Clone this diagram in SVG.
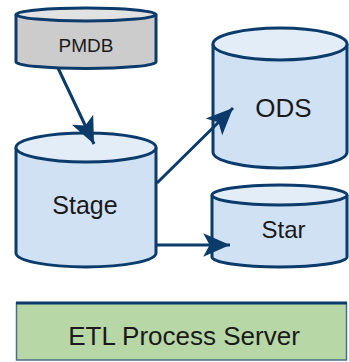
<svg xmlns="http://www.w3.org/2000/svg" width="349" height="362" viewBox="0 0 349 362">
<defs>
<style>
.cyl{stroke:#0b3b6b;stroke-width:3}
.body{fill:#cfe1f3}
.top{fill:#e3edf8}
.gbody{fill:#cccccc}
.gtop{fill:#e2e2e2}
.lbl{font-family:"Liberation Sans",Arial,sans-serif;fill:#1a1a1a;text-anchor:middle}
.conn{stroke:#0b3b6b;stroke-width:3;fill:none}
</style>
<marker id="ah" markerUnits="userSpaceOnUse" markerWidth="30" markerHeight="30" viewBox="-26 -13 28 26" refX="0" refY="0" orient="auto">
<path d="M0,0 L-25,-11 L-19,0 L-25,11 Z" fill="#0b3b6b"/>
</marker>
</defs>
<rect width="349" height="362" fill="#ffffff"/>
<g id="pmdb">
<path class="cyl gbody" d="M16,14.5 L16,62 A70,6.5 0 0 0 156,62 L156,14.5"/>
<ellipse class="cyl gtop" cx="86" cy="14.5" rx="70" ry="6.5"/>
<text class="lbl" x="86" y="52" font-size="19">PMDB</text>
</g>
<g id="stage">
<path class="cyl body" d="M16,147.5 L16,253 A70,14 0 0 0 156,253 L156,147.5"/>
<ellipse class="cyl top" cx="86" cy="147.5" rx="70" ry="14.5"/>
<text class="lbl" x="85" y="214" font-size="25">Stage</text>
</g>
<g id="ods">
<path class="cyl body" d="M213,44 L213,152 A67,16 0 0 0 347,152 L347,44"/>
<ellipse class="cyl top" cx="280" cy="44" rx="67" ry="16"/>
<text class="lbl" x="283.5" y="117" font-size="26">ODS</text>
</g>
<g id="star">
<path class="cyl body" d="M212,195 L212,257 A67.5,10 0 0 0 347,257 L347,195"/>
<ellipse class="cyl top" cx="279.5" cy="195" rx="67.5" ry="10"/>
<text class="lbl" x="283.5" y="238" font-size="24">Star</text>
</g>
<g id="etl">
<rect x="16.5" y="303" width="330" height="57" fill="#b7d7a7" stroke="#4a6f8a" stroke-width="1.5"/>
<line x1="16" y1="303" x2="347" y2="303" stroke="#0b3b6b" stroke-width="3"/>
<text class="lbl" x="184" y="345" font-size="26">ETL Process Server</text>
</g>
<g id="connectors">
<line class="conn" x1="58" y1="68" x2="94" y2="144" marker-end="url(#ah)"/>
<line class="conn" x1="157" y1="183" x2="233" y2="108" marker-end="url(#ah)"/>
<line class="conn" x1="157" y1="245" x2="230" y2="245" marker-end="url(#ah)"/>
</g>
</svg>
